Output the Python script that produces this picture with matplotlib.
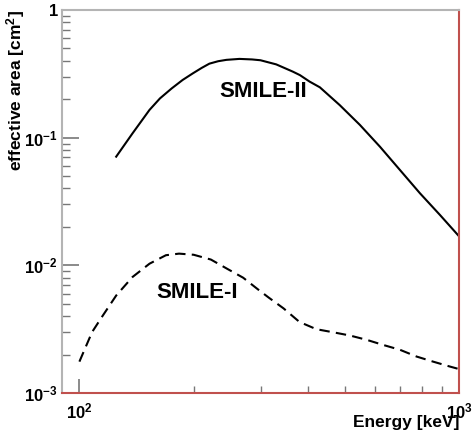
import matplotlib
matplotlib.use("Agg")
import matplotlib.pyplot as plt
import numpy as np
from matplotlib.ticker import FixedLocator, NullFormatter

plt.rcParams['font.family'] = ['Liberation Sans', 'DejaVu Sans']
plt.rcParams['font.weight'] = 'bold'
plt.rcParams['mathtext.fontset'] = 'custom'
plt.rcParams['mathtext.rm'] = 'Liberation Sans:bold'
plt.rcParams['mathtext.default'] = 'rm'

# SMILE-II (solid)
e2 = [125, 138, 153, 163, 175, 187, 199, 210, 220, 232, 244, 264, 285, 300, 330, 365, 381, 404,
      430, 485, 548, 619, 699, 789, 891, 1000]
a2 = [0.071, 0.108, 0.165, 0.203, 0.243, 0.283, 0.319, 0.352, 0.380, 0.397, 0.407, 0.414, 0.410,
      0.404, 0.375, 0.329, 0.309, 0.275, 0.248, 0.180, 0.126, 0.085, 0.0558, 0.0367, 0.0248, 0.0169]

# SMILE-I (dashed)
e1 = [100, 108, 115, 125, 138, 153, 169, 183, 200, 222, 245, 270, 295, 315, 345, 380, 421, 466,
      516, 571, 631, 699, 773, 855, 947, 1000]
a1 = [0.00176, 0.0030, 0.0040, 0.0058, 0.0081, 0.0103, 0.0120, 0.01235, 0.0121, 0.0111, 0.0094,
      0.0080, 0.0065, 0.0056, 0.0046, 0.0036, 0.00316, 0.00299, 0.00282, 0.00261, 0.00238,
      0.00218, 0.00193, 0.00176, 0.00161, 0.00154]

fig = plt.figure(figsize=(4.76, 4.37), dpi=100)
fig.patch.set_facecolor('white')
ax = fig.add_axes([0.1303, 0.1007, 0.8340, 0.8764])

ax.plot(e2, a2, linestyle='solid', color='black', linewidth=1.5)
ax.plot(e1, a1, linestyle=(0, (5, 3)), color='black', linewidth=1.5)

ax.set_xscale('log')
ax.set_yscale('log')
ax.set_xlim(90, 1000)
ax.set_ylim(1e-3, 1)

# ROOT-like frame
ax.spines['top'].set_color('#b4b4b4')
ax.spines['left'].set_color('#b4b4b4')
ax.spines['bottom'].set_color('#c0504d')
ax.spines['right'].set_color('#c0504d')
for s in ax.spines.values():
    s.set_linewidth(1.5)

ax.xaxis.set_major_locator(FixedLocator([100, 1000]))
ax.xaxis.set_minor_locator(FixedLocator([200, 300, 400, 500, 600, 700, 800, 900]))
ax.yaxis.set_major_locator(FixedLocator([1e-3, 1e-2, 1e-1, 1]))
ax.yaxis.set_minor_locator(FixedLocator([k * 10.0**p for p in (-3, -2, -1) for k in range(2, 10)]))
ax.xaxis.set_minor_formatter(NullFormatter())
ax.yaxis.set_minor_formatter(NullFormatter())
ax.set_xticklabels(['$10^{2}$', '$10^{3}$'])
ax.set_yticklabels(['$10^{-3}$', '$10^{-2}$', '$10^{-1}$', '1'])

ax.tick_params(which='both', direction='in', color='#777777', top=False, right=False)
ax.tick_params(axis='y', which='major', length=12, width=1.2, labelsize=12, pad=3)
ax.tick_params(axis='y', which='minor', length=6, width=1.0)
ax.tick_params(axis='x', which='major', length=10, width=1.2, labelsize=12, pad=6)
ax.tick_params(axis='x', which='minor', length=5, width=1.0)

ax.text(-0.116, 1.0, 'effective area [cm$^{2}$]', transform=ax.transAxes, rotation=90,
        ha='center', va='top', fontsize=12.5, fontweight='bold')
ax.text(1.0, -0.078, 'Energy [keV]', transform=ax.transAxes,
        ha='right', va='center', fontsize=12.5, fontweight='bold')

ax.text(234, 0.232, 'SMILE-II', ha='left', va='center', fontsize=16, fontweight='bold')
ax.text(159, 0.00608, 'SMILE-I', ha='left', va='center', fontsize=16, fontweight='bold')

fig.savefig('out.png', dpi=100)
